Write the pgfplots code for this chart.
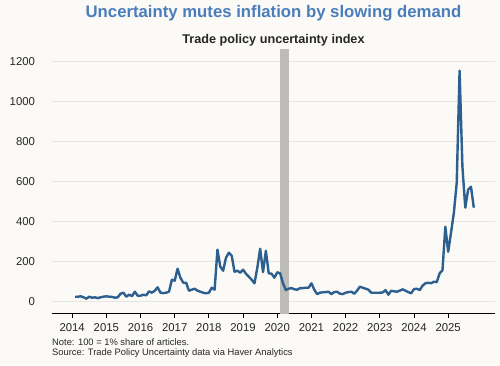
\documentclass[border=0pt]{standalone}
\usepackage{pgfplots}
\pgfplotsset{compat=1.18}
\usepackage{fontspec}
\setmainfont{Liberation Sans}
\definecolor{bg}{HTML}{FBFAF7}
\definecolor{titleblue}{HTML}{4A7DBA}
\definecolor{linec}{HTML}{2D5F8F}
\definecolor{gridc}{HTML}{E6E5E2}
\definecolor{shade}{HTML}{BEBCB9}
\begin{document}
\begin{tikzpicture}[x=1bp,y=1bp]
\fill[bg] (0,0) rectangle (500,365);
\node[anchor=base,font=\fontsize{16.8}{19}\selectfont\bfseries,text=titleblue,inner sep=0pt] at (273.5,347.5) {Uncertainty mutes inflation by slowing demand};
\node[anchor=base,font=\fontsize{12.7}{15}\selectfont\bfseries,text=black!85,inner sep=0pt] at (273.5,322) {Trade policy uncertainty index};
\node[anchor=base west,font=\fontsize{9.4}{11}\selectfont,text=black!85,inner sep=0pt] at (52,19.5) {Note: 100 = 1\% share of articles.};
\node[anchor=base west,font=\fontsize{9.4}{11}\selectfont,text=black!85,inner sep=0pt] at (52,9.5) {Source: Trade Policy Uncertainty data via Haver Analytics};
\begin{axis}[
  at={(52bp,51.3bp)}, anchor=south west,
  scale only axis, width=443bp, height=264.4bp,
  xmin=2013.41, xmax=2026.37,
  ymin=-60, ymax=1262,
  axis x line=bottom, axis y line=left,
  x axis line style={black, line width=1.2bp, -},
  y axis line style={draw=none},
  xtick={2014,...,2025},
  xticklabels={2014,2015,2016,2017,2018,2019,2020,2021,2022,2023,2024,2025},
  ytick={0,200,...,1200},
  yticklabels={0,200,400,600,800,1000,1200},
  ymajorgrids, grid style={gridc, line width=0.8bp},
  tick align=outside,
  x tick style={black, line width=0.8bp},
  major tick length=4.5bp,
  y tick style={draw=none},
  /pgf/number format/assume math mode=true,
  tick label style={font=\fontsize{11.4}{13}\selectfont, text=black!85},
  yticklabel style={anchor=east, xshift=-9bp},
  xticklabel style={anchor=north, yshift=-2bp},
  clip=false,
]
\addplot[fill=shade, draw=none] coordinates {(2020.08,-60) (2020.33,-60) (2020.33,1262) (2020.08,1262)} -- cycle;
\addplot[linec, line width=2.4bp, line join=round] table[row sep=\\, x expr=\thisrow{yr}+(\thisrow{mo}-1)/12, y=v] {
yr mo v\\
2014 2 25\\ 2014 3 25\\ 2014 4 27\\ 2014 5 22\\ 2014 6 15\\ 2014 7 25\\ 2014 8 20\\ 2014 9 22\\ 2014 10 18\\ 2014 11 22\\ 2014 12 25\\
2015 1 27\\ 2015 2 25\\ 2015 3 24\\ 2015 4 20\\ 2015 5 22\\ 2015 6 40\\ 2015 7 45\\ 2015 8 25\\ 2015 9 35\\ 2015 10 28\\ 2015 11 50\\ 2015 12 30\\
2016 1 30\\ 2016 2 35\\ 2016 3 32\\ 2016 4 52\\ 2016 5 45\\ 2016 6 55\\ 2016 7 72\\ 2016 8 45\\ 2016 9 43\\ 2016 10 45\\ 2016 11 50\\ 2016 12 110\\
2017 1 105\\ 2017 2 165\\ 2017 3 120\\ 2017 4 95\\ 2017 5 95\\ 2017 6 55\\ 2017 7 60\\ 2017 8 65\\ 2017 9 55\\ 2017 10 50\\ 2017 11 45\\ 2017 12 42\\
2018 1 45\\ 2018 2 70\\ 2018 3 60\\ 2018 4 260\\ 2018 5 175\\ 2018 6 155\\ 2018 7 220\\ 2018 8 245\\ 2018 9 230\\ 2018 10 150\\ 2018 11 155\\ 2018 12 145\\
2019 1 160\\ 2019 2 140\\ 2019 3 125\\ 2019 4 110\\ 2019 5 92\\ 2019 6 170\\ 2019 7 265\\ 2019 8 148\\ 2019 9 255\\ 2019 10 142\\ 2019 11 140\\ 2019 12 120\\
2020 1 147\\ 2020 2 142\\ 2020 3 93\\ 2020 4 58\\ 2020 5 65\\ 2020 6 68\\ 2020 7 62\\ 2020 8 60\\ 2020 9 68\\ 2020 10 68\\ 2020 11 70\\ 2020 12 70\\
2021 1 92\\ 2021 2 60\\ 2021 3 38\\ 2021 4 45\\ 2021 5 47\\ 2021 6 48\\ 2021 7 50\\ 2021 8 38\\ 2021 9 48\\ 2021 10 50\\ 2021 11 40\\ 2021 12 38\\
2022 1 45\\ 2022 2 48\\ 2022 3 50\\ 2022 4 40\\ 2022 5 55\\ 2022 6 75\\ 2022 7 70\\ 2022 8 65\\ 2022 9 60\\ 2022 10 45\\ 2022 11 45\\ 2022 12 45\\
2023 1 45\\ 2023 2 46\\ 2023 3 58\\ 2023 4 35\\ 2023 5 55\\ 2023 6 52\\ 2023 7 50\\ 2023 8 55\\ 2023 9 62\\ 2023 10 55\\ 2023 11 48\\ 2023 12 42\\
2024 1 63\\ 2024 2 65\\ 2024 3 58\\ 2024 4 80\\ 2024 5 92\\ 2024 6 95\\ 2024 7 92\\ 2024 8 100\\ 2024 9 98\\ 2024 10 142\\ 2024 11 157\\ 2024 12 375\\
2025 1 250\\ 2025 2 345\\ 2025 3 445\\ 2025 4 595\\ 2025 5 1155\\ 2025 6 675\\ 2025 7 470\\ 2025 8 560\\ 2025 9 575\\ 2025 10 470\\
};
\end{axis}
\end{tikzpicture}
\end{document}
